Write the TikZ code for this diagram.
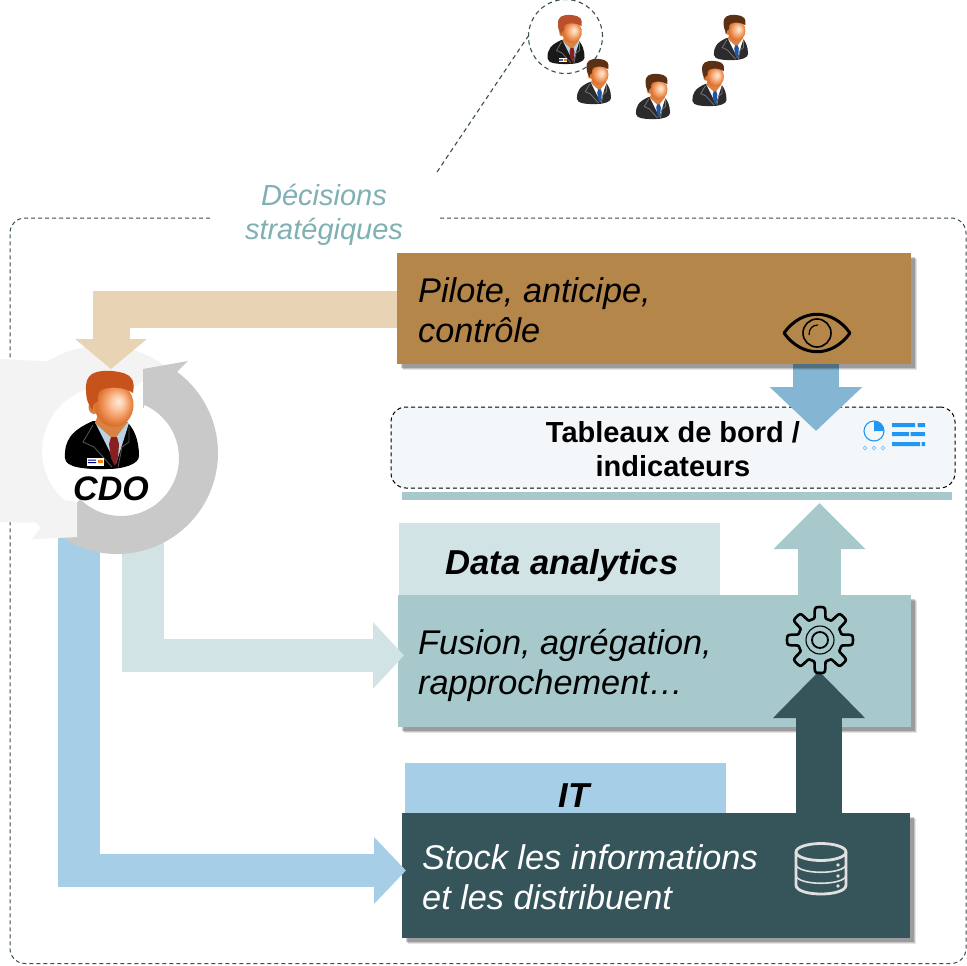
\documentclass[tikz,border=0pt]{standalone}
\usepackage{fontspec}
\setmainfont{Liberation Sans}
\usetikzlibrary{arrows.meta,shadows,calc}
\definecolor{cbrown}{HTML}{B5864A}
\definecolor{cbeige}{HTML}{E8D3B4}
\definecolor{cteal}{HTML}{A7C9CC}
\definecolor{cpale}{HTML}{D2E3E6}
\definecolor{cdark}{HTML}{36555A}
\definecolor{csky}{HTML}{A6CFE7}
\definecolor{cblue}{HTML}{84B5D2}
\definecolor{cpanel}{HTML}{F4F7F9}
\definecolor{clight}{HTML}{F3F3F3}
\definecolor{cgrey}{HTML}{C9C9C9}
\definecolor{cicon}{HTML}{2196F3}
\definecolor{cdash}{HTML}{3A4F54}
\definecolor{cdeci}{HTML}{7FB0B3}
\definecolor{fa}{HTML}{FFEADB}
\definecolor{fb}{HTML}{FBC8A2}
\definecolor{fc}{HTML}{F2975E}
\definecolor{fd}{HTML}{D9722F}
\definecolor{hairbig}{HTML}{C6531C}
\definecolor{hairceo}{HTML}{B9502B}
\definecolor{hairdark}{HTML}{5B3014}
\definecolor{skin}{HTML}{D98245}
\definecolor{tiered}{HTML}{8A1F22}
\definecolor{tieblue}{HTML}{1E55A5}
\definecolor{shirtblue}{HTML}{BAD3E3}
\definecolor{suitgrey}{HTML}{2B2B2D}
\pgfdeclareradialshading{faceshade}{\pgfpoint{0.22cm}{0.15cm}}{%
  color(0cm)=(fa);color(0.28cm)=(fb);color(0.58cm)=(fc);color(0.85cm)=(fd);color(1.2cm)=(fd)}
\tikzset{
  body text/.style={font=\fontsize{34.3}{40}\selectfont\itshape,align=left,inner sep=0pt,anchor=west},
  softbox/.style={
    general shadow={shadow xshift=6pt,shadow yshift=-6pt,fill=black,opacity=.10},
    general shadow={shadow xshift=5pt,shadow yshift=-5pt,fill=black,opacity=.14},
    general shadow={shadow xshift=3.5pt,shadow yshift=-3.5pt,fill=black,opacity=.20},
    inner sep=0pt,anchor=north west},
  band/.style={inner sep=0pt,font=\fontsize{34.6}{38}\selectfont\bfseries\itshape},
  blk/.style n args={4}{line width=#1pt,draw=#2,-{Triangle[length=#3pt,width=#4pt,fill=#2]}},
  bar/.style n args={2}{line width=#1pt,draw=#2},
  pics/person/.style n args={4}{code={
    \fill[#2] (-37,38) .. controls (-38,20) and (-30,10) .. (-9,1) -- (24,1)
       .. controls (32,8) and (37,20) .. (37,36) .. controls (37,44) and (22,49) .. (5,49)
       .. controls (-15,49.5) and (-37,48) .. (-37,38) -- cycle;
    \fill[#3] (-7,2) -- (14,44) -- (27,3) -- cycle;
    \fill[skin] (-3,-8) -- (25,-8) -- (25,3) -- (12,20) -- (-7,3) -- cycle;
    \fill[#4] (9,17) -- (15,17) -- (17,24) -- (16,38) -- (13,46) -- (9,38) -- (7,24) -- cycle;
    \draw[white!35!#2,line width=.8pt] (-9,5) -- (-19,22) -- (-8,27) -- (10,47)
       (27,6) -- (27,22) -- (20,27) -- (16,47);
    \fill[skin] (-8,-13) ellipse [x radius=5.5,y radius=7];
    \shade[shading=faceshade] (12,-15) ellipse [x radius=19.5,y radius=22];
    \fill[#1] (31,-27) .. controls (33,-40) and (31,-47) .. (10,-49)
       .. controls (-8,-50) and (-17,-46) .. (-16,-30)
       .. controls (-16,-20) and (-13,-14) .. (-9,-9)
       .. controls (-10,-13) and (-9,-17) .. (-4,-19)
       .. controls (-5,-23) and (-4,-27) .. (-1,-30)
       .. controls (8,-34) and (22,-33) .. (31,-27) -- cycle;
  }},
  pics/badge/.style={code={
    \fill[white] (-15,38) rectangle (2,46);
    \fill[blue!50!black] (-14,39.5) rectangle (-6,40.5) (-14,42) rectangle (-6,43);
    \fill[orange] (-4,39.5) rectangle (1,42.5);
  }},
}
\begin{document}
\begin{tikzpicture}[x=1pt,y=-1pt]
\path[use as bounding box,clip] (0,0) rectangle (967,966);
\fill[white] (0,0) rectangle (967,966);

% frame and top group
\draw[cdash,line width=1pt,dash pattern=on 4pt off 3pt,rounded corners=15pt]
  (210,218) -- (10,218) -- (10,963.5) -- (966,963.5) -- (966,218) -- (438,218);
\node[fill=white,inner sep=0pt,minimum width=228pt,minimum height=66pt,
      text=cdeci,align=center,font=\fontsize{29}{34.5}\selectfont\itshape] (deci) at (324,215)
  {Décisions\\stratégiques};
\node[circle,draw=cdash,line width=1.1pt,dash pattern=on 4.5pt off 3.5pt,minimum size=74pt,inner sep=0pt] (ceo) at (565.5,36.5) {};
\coordinate (deciTop) at (437,172);
\draw[cdash,line width=1.1pt,dash pattern=on 4.5pt off 3.5pt] (deciTop) -- (ceo.west);
\pic[scale=.5] at (566,39.5) {person={hairceo}{black!90}{shirtblue}{tiered}};
\pic[scale=.5] at (566,39.5) {badge};
\pic[scale=.46] at (594,81.5) {person={hairdark}{suitgrey}{white}{tieblue}};
\pic[scale=.46] at (653,96.5) {person={hairdark}{suitgrey}{white}{tieblue}};
\pic[scale=.46] at (709.5,83.5) {person={hairdark}{suitgrey}{white}{tieblue}};
\pic[scale=.46] at (731,37.5) {person={hairdark}{suitgrey}{white}{tieblue}};

% panel and rule
\node[draw=black,fill=cpanel,line width=1pt,dash pattern=on 4pt off 3pt,rounded corners=15pt,
      minimum width=564pt,minimum height=81pt,inner sep=0pt] (panel) at (673,447.5) {};
\node[align=center,inner sep=0pt,font=\fontsize{29}{34}\selectfont\bfseries] (paneltext) at (673,449) {Tableaux de bord /\\indicateurs};
\node[fill=cteal,minimum width=550pt,minimum height=8pt,inner sep=0pt] (rule) at (677,496) {};

% pale bands
\node[fill=cpale,minimum width=321pt,minimum height=72pt,band] (data) at (559.5,559) {};
\node[band] (datatext) at (562,565.5) {Data analytics};
\node[fill=csky,minimum width=321pt,minimum height=50pt,band] (it) at (565.5,788) {};
\node[band] (ittext) at (574,796) {IT};

% down arrow goes under the brown box shadow
\coordinate (downTop) at (816,350);
\coordinate (downTip) at (816,431);
\draw[blk={46}{cblue}{44}{90}] (downTop) -- (downTip);
\coordinate (cdoTop) at (111,369);

% boxes
\node[fill=cbrown,softbox,minimum width=514pt,minimum height=111pt] (pilote) at (397,253) {};
\node[fill=cteal,softbox,minimum width=513pt,minimum height=132pt] (fusion) at (398,595) {};
\node[fill=cdark,softbox,minimum width=508pt,minimum height=125pt] (stock) at (402,813) {};
\node[body text] (pilotetext) at (418,310.5) {Pilote, anticipe,\\contrôle};
\node[body text] (fusiontext) at (418,665) {Fusion, agrégation,\\rapprochement…};
\node[body text,text=white] (stocktext) at (422,877.5) {Stock les informations\\et les distribuent};

% vertical flow arrows
\coordinate (upTealX) at (819.5,0);
\coordinate (tealTip) at (819.5,503);
\draw[blk={43}{cteal}{46}{89}] (upTealX |- fusion.north) -- (tealTip);
\coordinate (upDarkX) at (819,0);
\coordinate (darkTip) at (819,671);
\draw[blk={46}{cdark}{47}{89}] (upDarkX |- stock.north) -- (darkTip);

% left elbow arrows
\coordinate (skyTop) at (79,520);
\coordinate (skyCorner) at (79,887);
\coordinate (skyElbow) at (79,870.5);
\coordinate (skyTip) at (406,870.5);
\draw[bar={42}{csky}] (skyTop) -- (skyCorner);
\draw[blk={33}{csky}{32}{65}] (skyElbow) -- (skyTip);
\coordinate (paleTop) at (143,520);
\coordinate (paleCorner) at (143,672);
\coordinate (paleElbow) at (143,655.5);
\coordinate (paleTip) at (404,655.5);
\draw[bar={42}{cpale}] (paleTop) -- (paleCorner);
\draw[blk={33}{cpale}{31}{65}] (paleElbow) -- (paleTip);

% cycle around the CDO
\fill[clight] plot[domain=307:238,samples=30] ({103+104.5*cos(\x)},{450+104.5*sin(\x)})
  -- (0,359) -- (0,522) -- (36,522.6) -- (41,528) -- (32,539) -- (77,537) -- (77,503) -- (67,500)
  -- plot[domain=129:290,samples=40] ({107+65*cos(\x)},{451+65*sin(\x)}) -- cycle;
\fill[cgrey] plot[domain=-53.5:122,samples=50] ({117+101*cos(\x)},{453+101*sin(\x)})
  -- (77,537) -- (77,503) -- (80,499)
  -- plot[domain=135:-66,samples=50] ({121+58*cos(\x)},{458+58*sin(\x)})
  -- (143,409) -- (143,369) -- (188,361) -- cycle;
\fill[clight] (77,503) -- (67,500) -- (40,523) -- (36,522.6) -- (41,528) -- (32,539) -- (77,537) -- cycle;

% top elbow arrow
\draw[blk={37}{cbeige}{30}{70}] (pilote.west) ++(0,0.5) -| (cdoTop);

% CDO
\pic at (102,420) {person={hairbig}{black}{shirtblue}{tiered}};
\pic at (102,420) {badge};
\node[inner sep=0pt,font=\fontsize{34}{40}\selectfont\bfseries\itshape] (cdo) at (111,489) {CDO};

% eye icon
\coordinate (eye) at (817,333);
\draw[black,line width=3pt,line join=round] ($(eye)+(-33,0)$) .. controls ($(eye)+(-15,-25)$) and ($(eye)+(15,-25)$) .. ($(eye)+(33,0)$)
  .. controls ($(eye)+(15,25)$) and ($(eye)+(-15,25)$) .. cycle;
\draw[black,line width=1.6pt] (eye) circle (14);
\draw[black,line width=1.2pt] ($(eye)+(-8,2)$) .. controls ($(eye)+(-8,-5)$) and ($(eye)+(-4,-8)$) .. ($(eye)+(1,-8)$);

% dashboard icon
\draw[cicon,line width=1.1pt] (874,431) circle (10);
\fill[cicon] (874,431) -- (874,421.5) .. controls (880,421.5) and (883.5,426) .. (883.5,431) -- cycle;
\draw[cicon!60,line width=.7pt] (865,448) circle (1.8) (874,448) circle (1.8) (883,448) circle (1.8);
\fill[cicon] (892,423) rectangle (915,427) (917.5,423) rectangle (925,427)
  (892,432) rectangle (909,436) (910.5,432) rectangle (925,436)
  (892,442) rectangle (920,446) (921.5,442) rectangle (925,446);

% gear icon
\draw[black,line width=2.6pt,line join=round] plot[domain=0:360,samples=241] ({820+(27.5+5.5*tanh(3*sin(8*\x+90)))*cos(\x)},{640+(27.5+5.5*tanh(3*sin(8*\x+90)))*sin(\x)}) -- cycle;
\draw[black,line width=1.1pt] (820,640) circle (14);
\draw[black,line width=1.8pt] (820,640) circle (8);

% database icon
\begin{scope}[draw=black!12,line width=2.8pt]
\draw (821,852) ellipse [x radius=25,y radius=8.5];
\draw (796,852) -- (796,885) .. controls (796,897) and (846,897) .. (846,885) -- (846,852);
\draw[line width=1.6pt] (796,864) .. controls (796,875) and (846,875) .. (846,864);
\draw[line width=1.6pt] (796,875) .. controls (796,886) and (846,886) .. (846,875);
\fill[black!12] (838,865) circle (1.8) (838,876) circle (1.8) (838,886) circle (1.8);
\end{scope}
\end{tikzpicture}
\end{document}
